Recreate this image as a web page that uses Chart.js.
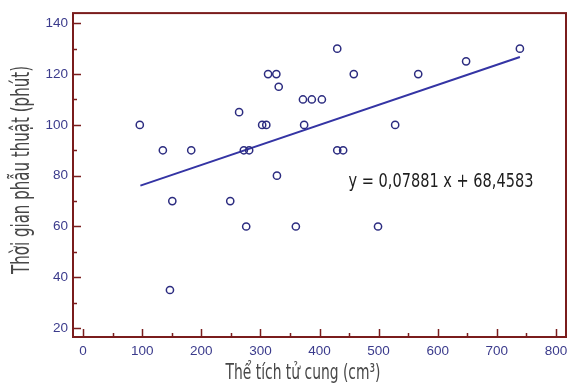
<!DOCTYPE html>
<html>
<head>
<meta charset="utf-8">
<script src="https://cdn.jsdelivr.net/npm/chart.js@4"></script>
<style>
  html, body { margin: 0; padding: 0; background: #ffffff; }
  #wrap { width: 577px; height: 386px; position: relative; }
</style>
</head>
<body>
<div id="wrap"><canvas id="chart"></canvas></div>
<script>
// thể tích tử cung (cm3) và thời gian phẫu thuật (phút)
const volume = [96, 135, 183, 151, 147, 249, 264, 276, 272, 281, 303, 310, 313, 327, 331, 328,
                360, 372, 387, 404, 374, 430, 458, 430, 440, 499, 528, 567, 648, 739];
const minutes = [100, 90, 90, 70, 35, 70, 105, 60, 90, 90, 100, 100, 120, 120, 115, 80,
                 60, 110, 110, 110, 100, 130, 120, 90, 90, 60, 100, 120, 125, 130];

// đường hồi quy: hai đầu mút
const fitX = [97, 739];
const fitY = [76.1, 126.7];

const xTicks = [0, 100, 200, 300, 400, 500, 600, 700, 800];
const yTicks = [20, 40, 60, 80, 100, 120, 140];
const equation = 'y = 0,07881 x + 68,4583';
const xTitle = 'Thể tích tử cung (cm³)';
const yTitle = 'Thời gian phẫu thuật (phút)';

const axisColor  = '#7a1c1c';
const navy       = '#2c2c80';
const labelColor = '#3b3b8c';

// chữ hẹp: co chữ theo chiều ngang cho vừa bề rộng mong muốn
const narrowText = (ctx, text, size, width, color) => {
  ctx.font = size + 'px "DejaVu Sans"';
  try { ctx.fontStretch = 'condensed'; } catch (e) {}
  const w = ctx.measureText(text).width;
  ctx.fillStyle = color;
  ctx.textAlign = 'center';
  ctx.textBaseline = 'middle';
  ctx.scale(width / w, 1);
  ctx.fillText(text, 0, 0);
};

// khung + vạch chia hướng vào trong + phương trình + tên trục
const framePlugin = {
  id: 'frame',
  afterDraw(chart) {
    const { ctx, chartArea: a, scales: { x, y } } = chart;
    ctx.save();
    ctx.strokeStyle = axisColor;
    ctx.lineWidth = 2;
    ctx.strokeRect(a.left, a.top, a.right - a.left, a.bottom - a.top);

    ctx.lineWidth = 1.5;
    ctx.beginPath();
    for (let v = 0; v <= 800; v += 50) {
      const px = Math.round(x.getPixelForValue(v)) + 0.5;
      const len = v % 100 === 0 ? 8 : 4;
      ctx.moveTo(px, a.bottom);
      ctx.lineTo(px, a.bottom - len);
    }
    for (let v = 20; v <= 140; v += 10) {
      const py = Math.round(y.getPixelForValue(v)) + 0.5;
      const len = v % 20 === 0 ? 8 : 4;
      ctx.moveTo(a.left, py);
      ctx.lineTo(a.left + len, py);
    }
    ctx.stroke();
    ctx.restore();

    ctx.save();
    ctx.translate(441, 182);
    narrowText(ctx, equation, 19.5, 185, '#1e1e1e');
    ctx.restore();

    ctx.save();
    ctx.translate(303, 374);
    narrowText(ctx, xTitle, 21, 155, '#484848');
    ctx.restore();

    ctx.save();
    ctx.translate(23, 170);
    ctx.rotate(-Math.PI / 2);
    narrowText(ctx, yTitle, 24, 208, '#484848');
    ctx.restore();
  }
};

new Chart(document.getElementById('chart'), {
  type: 'scatter',
  data: {
    datasets: [
      {
        data: volume.map((v, i) => ({ x: v, y: minutes[i] })),
        pointRadius: 3.6,
        pointBorderWidth: 1.5,
        pointBorderColor: navy,
        pointBackgroundColor: 'rgba(0,0,0,0)',
        showLine: false
      },
      {
        type: 'line',
        data: fitX.map((v, i) => ({ x: v, y: fitY[i] })),
        borderColor: '#3434a4',
        borderWidth: 2,
        pointRadius: 0,
        fill: false
      }
    ]
  },
  options: {
    responsive: true,
    maintainAspectRatio: false,
    animation: false,
    layout: { padding: { top: 8, right: 11, left: 0, bottom: 0 } },
    plugins: { legend: { display: false }, tooltip: { enabled: false } },
    scales: {
      x: {
        type: 'linear',
        min: -17,
        max: 817,
        afterBuildTicks: (s) => { s.ticks = xTicks.map(v => ({ value: v })); },
        afterFit: (s) => { s.height = 49; },
        grid: { display: false, drawTicks: false },
        border: { display: false },
        ticks: { color: labelColor, padding: 6, font: { size: 13.5, family: 'Liberation Sans, Arial, sans-serif' } }
      },
      y: {
        type: 'linear',
        min: 16.5,
        max: 144,
        afterBuildTicks: (s) => { s.ticks = yTicks.map(v => ({ value: v })); },
        afterFit: (s) => { s.width = 73; },
        grid: { display: false, drawTicks: false },
        border: { display: false },
        ticks: { color: labelColor, padding: 5, font: { size: 13.5, family: 'Liberation Sans, Arial, sans-serif' } }
      }
    }
  },
  plugins: [framePlugin]
});
</script>
</body>
</html>
